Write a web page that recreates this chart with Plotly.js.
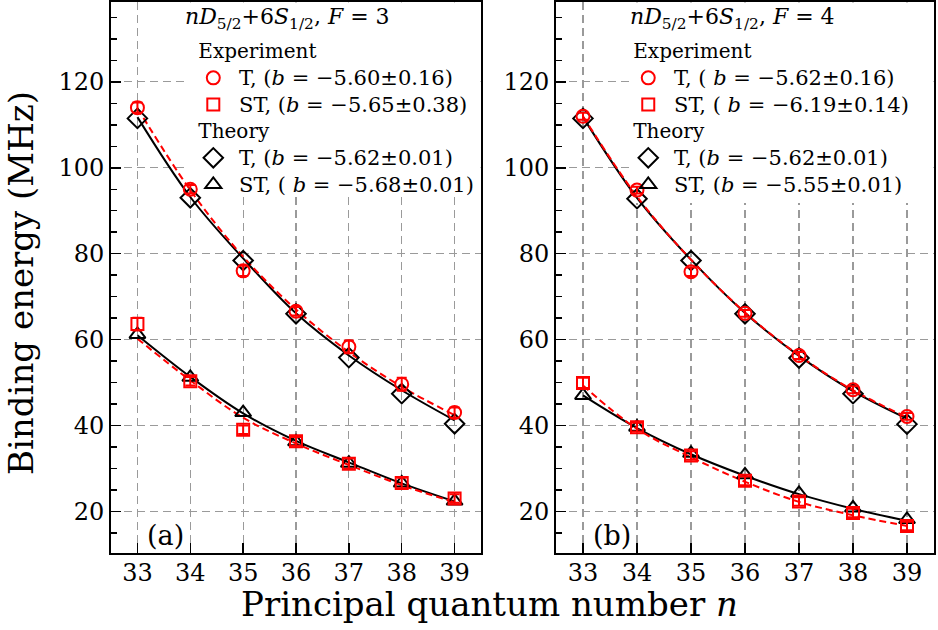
<!DOCTYPE html>
<html>
<head>
<meta charset="utf-8">
<script src="https://cdn.plot.ly/plotly-3.0.1.min.js"></script>
<style>html,body{margin:0;padding:0;background:#fff}#chart{width:938px;height:630px}</style>
</head>
<body>
<div id="chart"></div>
<script>
// ---- data ----
const nVals = [33, 34, 35, 36, 37, 38, 39];

// panel (a): F = 3
const expT_a   = [114.0, 95.0, 76.0, 66.6, 58.3, 49.6, 43.0];
const expT_a_err = [1.2, 1.0, 1.2, 1.0, 1.5, 1.5, 1.2];
const expST_a  = [63.6, 50.3, 39.0, 36.3, 31.1, 26.6, 23.0];
const expST_a_err = [1.5, 1.0, 1.0, 1.0, 1.2, 1.2, 1.0];
const thT_a    = [111.5, 93.0, 78.4, 66.0, 55.8, 47.4, 40.4];
const thST_a   = [61.2, 51.2, 43.0, 36.2, 31.2, 26.6, 22.4];
const fitExpT_a  = [113.9, 94.8, 79.3, 67.0, 57.1, 49.0, 42.4];
const fitExpST_a = [60.2, 50.5, 41.8, 35.8, 30.8, 26.1, 22.1];
const fitThT_a   = [111.8, 93.2, 78.9, 66.1, 56.3, 48.2, 41.2];
const fitThST_a  = [61.0, 51.3, 42.8, 36.4, 31.4, 26.5, 22.3];

// panel (b): F = 4
const expT_b   = [112.0, 94.8, 75.8, 66.1, 56.3, 48.3, 42.1];
const expT_b_err = [0.8, 0.8, 1.0, 0.8, 0.8, 0.8, 0.8];
const expST_b  = [49.9, 39.6, 33.0, 27.1, 22.3, 19.6, 16.6];
const expST_b_err = [1.2, 1.0, 1.0, 1.0, 1.0, 1.0, 1.0];
const thT_b    = [111.5, 92.8, 78.4, 66.0, 55.7, 47.4, 40.3];
const thST_b   = [47.0, 39.6, 33.5, 28.5, 24.2, 20.8, 18.1];
const fitExpT_b  = [112.0, 93.3, 78.6, 66.3, 56.3, 48.2, 41.9];
const fitExpST_b = [49.3, 39.2, 32.6, 26.9, 22.2, 19.1, 16.6];
const fitThT_b   = [111.8, 93.0, 78.6, 66.2, 56.2, 48.0, 41.6];
const fitThST_b  = [47.0, 39.4, 33.3, 28.3, 24.0, 20.6, 17.8];

// labels
const legA = {
  title: '<i>nD</i><sub>5/2</sub>+6<i>S</i><sub>1/2</sub>, <i>F</i> = 3',
  expT: 'T, (<i>b</i> = −5.60±0.16)',
  expST: 'ST, (<i>b</i> = −5.65±0.38)',
  thT: 'T, (<i>b</i> = −5.62±0.01)',
  thST: 'ST, ( <i>b</i> = −5.68±0.01)'
};
const legB = {
  title: '<i>nD</i><sub>5/2</sub>+6<i>S</i><sub>1/2</sub>, <i>F</i> = 4',
  expT: 'T, ( <i>b</i> = −5.62±0.16)',
  expST: 'ST, ( <i>b</i> = −6.19±0.14)',
  thT: 'T, (<i>b</i> = −5.62±0.01)',
  thST: 'ST, (<i>b</i> = −5.55±0.01)'
};
const groupExp = 'Experiment';
const groupTh = 'Theory';
const xTitle = 'Principal quantum number <i>n</i>';
const yTitle = 'Binding energy (MHz)';

const FONT = 'DejaVu Serif';
const RED = '#ff0000';
const LEG_TXT = s => ' <span style="font-size:21px">' + s + '</span>';
const GRP_TXT = s => '<span style="font-size:20px">' + s + '</span>';

function panel(xa, ya, legend, L, eT, eTerr, eST, eSTerr, tT, tST, fET, fEST, fTT, fTST) {
  const tr = [];
  // fit curves
  [fTT, fTST].forEach(c => tr.push({
    x: nVals, y: c, xaxis: xa, yaxis: ya, mode: 'lines', showlegend: false,
    line: {color: 'black', width: 2, shape: 'spline'}, hoverinfo: 'skip'}));
  [fET, fEST].forEach(c => tr.push({
    x: nVals, y: c, xaxis: xa, yaxis: ya, mode: 'lines', showlegend: false,
    line: {color: RED, width: 2, shape: 'spline', dash: '7px,4px'}, hoverinfo: 'skip'}));
  // theory markers
  tr.push({x: nVals, y: tT, xaxis: xa, yaxis: ya, mode: 'markers', name: LEG_TXT(L.thT), legend: legend,
    legendgroup: 'th', legendrank: 3, legendgrouptitle: {text: GRP_TXT(groupTh)},
    marker: {symbol: 'diamond-open', size: 15, color: 'black', line: {width: 2, color: 'black'}}});
  tr.push({x: nVals, y: tST, xaxis: xa, yaxis: ya, mode: 'markers', name: LEG_TXT(L.thST), legend: legend,
    legendgroup: 'th', legendrank: 4,
    marker: {symbol: 'triangle-up-open', size: 14, color: 'black', line: {width: 2, color: 'black'}}});
  // experiment markers
  tr.push({x: nVals, y: eT, xaxis: xa, yaxis: ya, mode: 'markers', name: LEG_TXT(L.expT), legend: legend,
    legendgroup: 'exp', legendrank: 1, legendgrouptitle: {text: GRP_TXT(groupExp)},
    error_y: {type: 'data', array: eTerr, color: RED, thickness: 2, width: 5},
    marker: {symbol: 'circle-open', size: 13, color: RED, line: {width: 2, color: RED}}});
  tr.push({x: nVals, y: eST, xaxis: xa, yaxis: ya, mode: 'markers', name: LEG_TXT(L.expST), legend: legend,
    legendgroup: 'exp', legendrank: 2,
    error_y: {type: 'data', array: eSTerr, color: RED, thickness: 2, width: 5},
    marker: {symbol: 'square-open', size: 12, color: RED, line: {width: 2, color: RED}}});
  return tr;
}

const data = [].concat(
  panel('x', 'y', 'legend', legA, expT_a, expT_a_err, expST_a, expST_a_err, thT_a, thST_a, fitExpT_a, fitExpST_a, fitThT_a, fitThST_a),
  panel('x2', 'y2', 'legend2', legB, expT_b, expT_b_err, expST_b, expST_b_err, thT_b, thST_b, fitExpT_b, fitExpST_b, fitThT_b, fitThST_b)
);

const xBase = {
  range: [32.5, 39.5], tickvals: nVals, ticks: 'inside', ticklen: 10, tickwidth: 1.5, tickcolor: 'black',
  showline: true, linecolor: 'black', linewidth: 2, mirror: true, zeroline: false,
  showgrid: true, gridcolor: '#9a9a9a', gridwidth: 1.2, griddash: '8px,5px',
  ticklabelstandoff: -3,
  tickfont: {family: FONT, size: 24, color: 'black'}, fixedrange: true
};
const yBase = {
  range: [10.3, 138.6], tick0: 0, dtick: 20, ticks: 'inside', ticklen: 10, tickwidth: 1.5, tickcolor: 'black',
  showline: true, linecolor: 'black', linewidth: 2, mirror: true, zeroline: false,
  showgrid: true, gridcolor: '#9a9a9a', gridwidth: 1.2, griddash: '8px,5px',
  minor: {dtick: 5, tick0: 0, ticks: 'inside', ticklen: 6, tickwidth: 1.5, tickcolor: 'black', showgrid: false},
  tickfont: {family: FONT, size: 24, color: 'black'}, fixedrange: true
};
const legBase = {
  font: {family: FONT, size: 18.2, color: 'black'},
  grouptitlefont: {family: FONT, size: 18.2, color: 'black'},
  bgcolor: 'rgba(0,0,0,0)', borderwidth: 0, tracegroupgap: 0, traceorder: 'grouped',
  xanchor: 'left', yanchor: 'top', itemclick: false, itemdoubleclick: false
};

const layout = {
  width: 938, height: 630,
  margin: {l: 111, r: 4, t: 2, b: 77},
  paper_bgcolor: 'white', plot_bgcolor: 'white',
  showlegend: true,
  xaxis: Object.assign({}, xBase, {domain: [0, 0.4496], anchor: 'y'}),
  xaxis2: Object.assign({}, xBase, {domain: [0.5407, 1], anchor: 'y2'}),
  yaxis: Object.assign({}, yBase, {domain: [0, 1], anchor: 'x'}),
  yaxis2: Object.assign({}, yBase, {domain: [0, 1], anchor: 'x2'}),
  legend: Object.assign({}, legBase, {x: 0.1000, y: 0.944}),
  legend2: Object.assign({}, legBase, {x: 0.6285, y: 0.944}),
  // white panels behind the legends (above the grid, below the data)
  shapes: [
    {type: 'rect', layer: 'between', xref: 'x', yref: 'y', x0: 33.95, x1: 39.49, y0: 93.2, y1: 138.5,
     fillcolor: 'white', line: {width: 0}},
    {type: 'rect', layer: 'between', xref: 'x2', yref: 'y2', x0: 33.93, x1: 39.49, y0: 91.8, y1: 138.5,
     fillcolor: 'white', line: {width: 0}}
  ],
  annotations: [
    {text: legA.title, xref: 'paper', yref: 'paper', x: 0.087, y: 1.0, xanchor: 'left', yanchor: 'top',
     showarrow: false, font: {family: FONT, size: 22, color: 'black'}},
    {text: legB.title, xref: 'paper', yref: 'paper', x: 0.6285, y: 1.0, xanchor: 'left', yanchor: 'top',
     showarrow: false, font: {family: FONT, size: 22, color: 'black'}},
    {text: '(a)', xref: 'x', yref: 'paper', x: 33.15, y: 0.0, xanchor: 'left', yanchor: 'bottom',
     showarrow: false, font: {family: FONT, size: 27, color: 'black'}},
    {text: '(b)', xref: 'x2', yref: 'paper', x: 33.15, y: 0.0, xanchor: 'left', yanchor: 'bottom',
     showarrow: false, font: {family: FONT, size: 27, color: 'black'}},
    {text: xTitle, xref: 'paper', yref: 'paper', x: 0.4605, y: -0.052, xanchor: 'center', yanchor: 'top',
     showarrow: false, font: {family: FONT, size: 34, color: 'black'}},
    {text: yTitle, xref: 'paper', yref: 'paper', x: -0.1349, xshift: 21, y: 0.49, xanchor: 'center', yanchor: 'middle',
     textangle: -90, showarrow: false, font: {family: FONT, size: 34, color: 'black'}}
  ]
};

Plotly.newPlot('chart', data, layout, {staticPlot: true, displayModeBar: false});
</script>
</body>
</html>
